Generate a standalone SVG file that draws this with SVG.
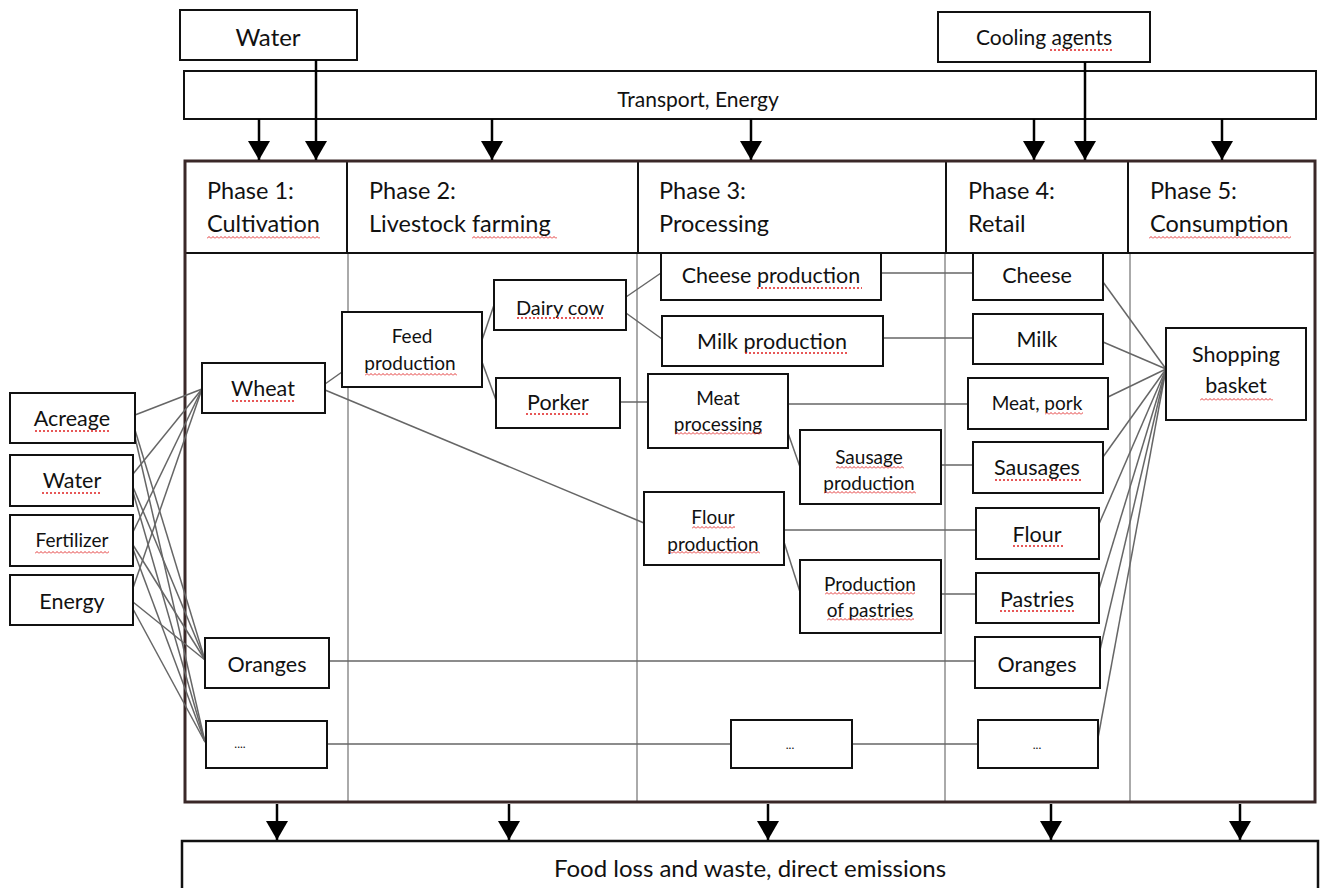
<svg xmlns="http://www.w3.org/2000/svg" width="1325" height="888" viewBox="0 0 1325 888">
  <defs>
    <marker id="ah" viewBox="0 0 19 22" refX="19" refY="11" markerWidth="19" markerHeight="22" markerUnits="userSpaceOnUse" orient="auto">
      <path d="M0,0 L19,11 L0,22 z" fill="#000"/>
    </marker>
    <pattern id="wave" width="4" height="3" patternUnits="userSpaceOnUse">
      <path d="M0,2.5 L2,0.5 L4,2.5" fill="none" stroke="#e02020" stroke-width="0.9"/>
    </pattern>
  </defs>
  <style>
    text { font-family: Lato, "Liberation Sans", Arial, sans-serif; fill: #111; }
    .box { fill: #fff; stroke: #111; stroke-width: 2; }
    .lbl { font-size: 21.5px; text-anchor: middle; }
    .sm { font-size: 19px; text-anchor: middle; }
    .hd { font-size: 23.5px; }
    .conn line, .conn path { stroke: #666; stroke-width: 1.5; fill: none; }
    .arr { stroke: #000; stroke-width: 2.5; marker-end: url(#ah); }
    .col { stroke: #aaa; stroke-width: 2; }
    .dot { stroke: #e02020; stroke-width: 1.3; stroke-dasharray: 2 2; }
  </style>
  <rect width="1325" height="888" fill="#fff"/>

  <!-- top inputs -->
  <g id="water-top">
    <rect class="box" x="180" y="10" width="177" height="50"/>
    <text x="268" y="46" font-size="24" text-anchor="middle">Water</text>
  </g>
  <g id="cooling">
    <rect class="box" x="938" y="12" width="212" height="50"/>
    <text x="1044" y="45" font-size="21" text-anchor="middle">Cooling agents</text>
    <line class="dot" x1="1050" y1="50" x2="1113" y2="50"/>
  </g>
  <g id="transport">
    <rect class="box" x="184" y="71" width="1132" height="48"/>
    <text x="698" y="107" font-size="21" text-anchor="middle">Transport, Energy</text>
  </g>

  <!-- main frame with phase header -->
  <g id="frame">
    <line class="col" x1="348" y1="253" x2="348" y2="803"/>
    <line class="col" x1="637" y1="253" x2="637" y2="803"/>
    <line class="col" x1="945" y1="253" x2="945" y2="803"/>
    <line class="col" x1="1130" y1="253" x2="1130" y2="803"/>
    <line x1="184" y1="253" x2="1316" y2="253" stroke="#111" stroke-width="2"/>
    <line x1="347" y1="160" x2="347" y2="253" stroke="#111" stroke-width="2"/>
    <line x1="638" y1="160" x2="638" y2="253" stroke="#111" stroke-width="2"/>
    <line x1="946" y1="160" x2="946" y2="253" stroke="#111" stroke-width="2"/>
    <line x1="1128" y1="160" x2="1128" y2="253" stroke="#111" stroke-width="2"/>
    <rect x="185" y="161" width="1130" height="641" fill="none" stroke="#3a2828" stroke-width="3"/>
  </g>
  <g id="phase1">
    <text class="hd" x="207" y="199">Phase 1:</text>
    <text class="hd" x="207" y="232">Cultivation</text>
    <rect transform="translate(207,236)" width="113" height="3" fill="url(#wave)"/>
  </g>
  <g id="phase2">
    <text class="hd" x="369" y="199">Phase 2:</text>
    <text class="hd" x="369" y="232">Livestock farming</text>
    <rect transform="translate(472,236)" width="85" height="3" fill="url(#wave)"/>
  </g>
  <g id="phase3">
    <text class="hd" x="659" y="199">Phase 3:</text>
    <text class="hd" x="659" y="232">Processing</text>
  </g>
  <g id="phase4">
    <text class="hd" x="968" y="199">Phase 4:</text>
    <text class="hd" x="968" y="232">Retail</text>
  </g>
  <g id="phase5">
    <text class="hd" x="1150" y="199">Phase 5:</text>
    <text class="hd" x="1150" y="232">Consumption</text>
    <rect transform="translate(1149,236)" width="142" height="3" fill="url(#wave)"/>
  </g>

  <!-- connectors -->
  <g id="connectors" class="conn">
    <!-- resources to crops -->
    <line x1="135" y1="415" x2="202" y2="389"/>
    <line x1="135" y1="430" x2="205" y2="660"/>
    <line x1="135" y1="437" x2="205" y2="742"/>
    <line x1="133" y1="474" x2="202" y2="389"/>
    <line x1="133" y1="487" x2="205" y2="660"/>
    <line x1="133" y1="492" x2="205" y2="742"/>
    <line x1="133" y1="532" x2="202" y2="389"/>
    <line x1="133" y1="545" x2="205" y2="660"/>
    <line x1="133" y1="549" x2="205" y2="742"/>
    <line x1="133" y1="588" x2="202" y2="389"/>
    <line x1="133" y1="602" x2="205" y2="660"/>
    <line x1="133" y1="609" x2="205" y2="742"/>
    <!-- crop chains -->
    <line x1="325" y1="384" x2="342" y2="372"/>
    <line x1="325" y1="390" x2="644" y2="523"/>
    <line x1="482" y1="340" x2="494" y2="305"/>
    <line x1="482" y1="362" x2="496" y2="400"/>
    <line x1="626" y1="297" x2="661" y2="273"/>
    <line x1="626" y1="313" x2="662" y2="339"/>
    <line x1="620" y1="402" x2="648" y2="402"/>
    <line x1="881" y1="273" x2="973" y2="273"/>
    <line x1="883" y1="338" x2="973" y2="338"/>
    <line x1="788" y1="404" x2="968" y2="404"/>
    <line x1="788" y1="433" x2="800" y2="467"/>
    <line x1="941" y1="465" x2="973" y2="465"/>
    <line x1="784" y1="530" x2="976" y2="530"/>
    <line x1="784" y1="542" x2="800" y2="592"/>
    <line x1="941" y1="594" x2="976" y2="594"/>
    <line x1="329" y1="661" x2="975" y2="661"/>
    <line x1="326" y1="744" x2="731" y2="744"/>
    <line x1="852" y1="744" x2="978" y2="744"/>
    <!-- retail to shopping basket -->
    <line x1="1103" y1="282" x2="1166" y2="369"/>
    <line x1="1103" y1="342" x2="1166" y2="369"/>
    <line x1="1108" y1="397" x2="1166" y2="369"/>
    <line x1="1103" y1="457" x2="1166" y2="369"/>
    <line x1="1099" y1="524" x2="1166" y2="369"/>
    <line x1="1099" y1="589" x2="1166" y2="369"/>
    <line x1="1100" y1="650" x2="1166" y2="369"/>
    <line x1="1098" y1="738" x2="1166" y2="369"/>
  </g>

  <!-- input and output arrows -->
  <g id="arrows">
    <line class="arr" x1="316" y1="60" x2="316" y2="160"/>
    <line class="arr" x1="1085" y1="62" x2="1085" y2="160"/>
    <line class="arr" x1="259" y1="119" x2="259" y2="160"/>
    <line class="arr" x1="492" y1="119" x2="492" y2="160"/>
    <line class="arr" x1="751" y1="119" x2="751" y2="160"/>
    <line class="arr" x1="1034" y1="119" x2="1034" y2="160"/>
    <line class="arr" x1="1222" y1="119" x2="1222" y2="160"/>
    <line class="arr" x1="277" y1="804" x2="277" y2="840"/>
    <line class="arr" x1="509" y1="804" x2="509" y2="840"/>
    <line class="arr" x1="768" y1="804" x2="768" y2="840"/>
    <line class="arr" x1="1051" y1="804" x2="1051" y2="840"/>
    <line class="arr" x1="1240" y1="804" x2="1240" y2="840"/>
  </g>

  <!-- resources -->
  <g id="acreage">
    <rect class="box" x="10" y="393" width="125" height="50"/>
    <text class="lbl" x="72" y="426">Acreage</text>
    <line class="dot" x1="35" y1="431" x2="110" y2="431"/>
  </g>
  <g id="water">
    <rect class="box" x="10" y="455" width="123" height="51"/>
    <text class="lbl" x="72" y="488">Water</text>
    <line class="dot" x1="42" y1="493" x2="100" y2="493"/>
  </g>
  <g id="fertilizer">
    <rect class="box" x="10" y="515" width="123" height="51"/>
    <text class="sm" x="72" y="547">Fertilizer</text>
    <rect transform="translate(35,551)" width="74" height="3" fill="url(#wave)"/>
  </g>
  <g id="energy">
    <rect class="box" x="10" y="575" width="123" height="50"/>
    <text class="lbl" x="72" y="609">Energy</text>
  </g>

  <!-- phase 1 -->
  <g id="wheat">
    <rect class="box" x="202" y="363" width="123" height="50"/>
    <text class="lbl" x="263" y="396">Wheat</text>
    <line class="dot" x1="232" y1="401" x2="295" y2="401"/>
  </g>
  <g id="oranges-crop">
    <rect class="box" x="205" y="638" width="124" height="50"/>
    <text class="lbl" x="267" y="672">Oranges</text>
  </g>
  <g id="crop-more">
    <rect class="box" x="206" y="721" width="121" height="47"/>
    <text x="240" y="748" font-size="12" text-anchor="middle">....</text>
  </g>

  <!-- phase 2 -->
  <g id="feed">
    <rect class="box" x="342" y="312" width="140" height="75"/>
    <text class="sm" x="412" y="343">Feed</text>
    <text class="sm" x="410" y="370">production</text>
    <rect transform="translate(365,373)" width="92" height="3" fill="url(#wave)"/>
  </g>
  <g id="dairy-cow">
    <rect class="box" x="494" y="280" width="132" height="50"/>
    <text x="560" y="315" font-size="20" text-anchor="middle">Dairy cow</text>
    <line class="dot" x1="517" y1="318" x2="605" y2="318"/>
  </g>
  <g id="porker">
    <rect class="box" x="496" y="378" width="124" height="50"/>
    <text class="lbl" x="558" y="410">Porker</text>
    <line class="dot" x1="526" y1="414" x2="588" y2="414"/>
  </g>

  <!-- phase 3 -->
  <g id="cheese-production">
    <rect class="box" x="661" y="253" width="220" height="47"/>
    <text class="lbl" x="771" y="283">Cheese production</text>
    <line class="dot" x1="757" y1="288" x2="862" y2="288"/>
  </g>
  <g id="milk-production">
    <rect class="box" x="662" y="316" width="221" height="50"/>
    <text class="lbl" x="772" y="349">Milk production</text>
    <line class="dot" x1="745" y1="353" x2="847" y2="353"/>
  </g>
  <g id="meat-processing">
    <rect class="box" x="648" y="374" width="140" height="74"/>
    <text class="sm" x="718" y="405">Meat</text>
    <text class="sm" x="718" y="431">processing</text>
    <rect transform="translate(675,432)" width="87" height="3" fill="url(#wave)"/>
  </g>
  <g id="sausage-production">
    <rect class="box" x="800" y="430" width="141" height="74"/>
    <text class="sm" x="869" y="464">Sausage</text>
    <text class="sm" x="869" y="490">production</text>
    <rect transform="translate(836,466)" width="68" height="3" fill="url(#wave)"/>
    <rect transform="translate(824,491)" width="92" height="3" fill="url(#wave)"/>
  </g>
  <g id="flour-production">
    <rect class="box" x="644" y="492" width="140" height="73"/>
    <text class="sm" x="713" y="524">Flour</text>
    <text class="sm" x="713" y="551">production</text>
    <rect transform="translate(692,526)" width="43" height="3" fill="url(#wave)"/>
    <rect transform="translate(668,551)" width="92" height="3" fill="url(#wave)"/>
  </g>
  <g id="pastries-production">
    <rect class="box" x="800" y="560" width="141" height="73"/>
    <text class="sm" x="870" y="591">Production</text>
    <text class="sm" x="870" y="617">of pastries</text>
    <rect transform="translate(825,592)" width="90" height="3" fill="url(#wave)"/>
    <rect transform="translate(827,618)" width="87" height="3" fill="url(#wave)"/>
  </g>
  <g id="processing-more">
    <rect class="box" x="731" y="720" width="121" height="48"/>
    <text x="790" y="749" font-size="12" text-anchor="middle">...</text>
  </g>

  <!-- phase 4 -->
  <g id="cheese">
    <rect class="box" x="973" y="253" width="130" height="47"/>
    <text class="lbl" x="1037" y="283">Cheese</text>
  </g>
  <g id="milk">
    <rect class="box" x="973" y="314" width="130" height="50"/>
    <text class="lbl" x="1037" y="347">Milk</text>
  </g>
  <g id="meat-pork">
    <rect class="box" x="968" y="378" width="140" height="51"/>
    <text class="sm" x="1037" y="410">Meat, pork</text>
    <rect transform="translate(1045,412)" width="38" height="3" fill="url(#wave)"/>
  </g>
  <g id="sausages">
    <rect class="box" x="973" y="442" width="130" height="51"/>
    <text class="lbl" x="1037" y="475">Sausages</text>
    <line class="dot" x1="995" y1="480" x2="1083" y2="480"/>
  </g>
  <g id="flour">
    <rect class="box" x="976" y="508" width="123" height="51"/>
    <text class="lbl" x="1037" y="542">Flour</text>
    <line class="dot" x1="1013" y1="546" x2="1063" y2="546"/>
  </g>
  <g id="pastries">
    <rect class="box" x="976" y="573" width="123" height="50"/>
    <text class="lbl" x="1037" y="607">Pastries</text>
    <line class="dot" x1="1000" y1="611" x2="1075" y2="611"/>
  </g>
  <g id="oranges-retail">
    <rect class="box" x="975" y="637" width="125" height="51"/>
    <text class="lbl" x="1037" y="672">Oranges</text>
  </g>
  <g id="retail-more">
    <rect class="box" x="978" y="720" width="120" height="48"/>
    <text x="1037" y="749" font-size="12" text-anchor="middle">...</text>
  </g>

  <!-- phase 5 -->
  <g id="shopping-basket">
    <rect class="box" x="1166" y="328" width="140" height="92"/>
    <text class="lbl" x="1236" y="362">Shopping</text>
    <text class="lbl" x="1236" y="393">basket</text>
    <rect transform="translate(1200,398)" width="73" height="3" fill="url(#wave)"/>
  </g>

  <!-- output -->
  <g id="food-loss">
    <rect x="182" y="841" width="1136" height="60" fill="#fff" stroke="#111" stroke-width="2.5"/>
    <text x="750" y="877" font-size="24" text-anchor="middle">Food loss and waste, direct emissions</text>
  </g>
</svg>
